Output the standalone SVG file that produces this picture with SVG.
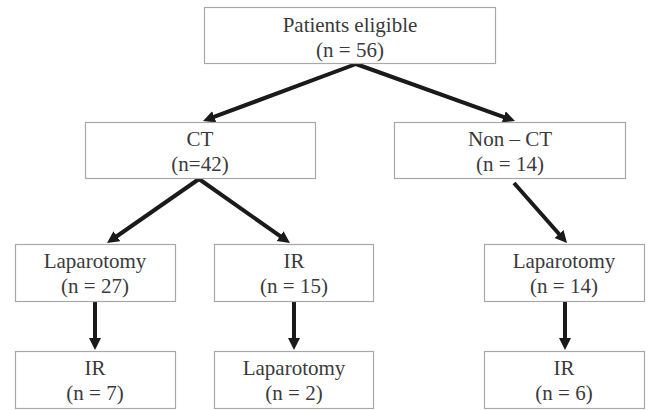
<svg xmlns="http://www.w3.org/2000/svg" width="648" height="410" viewBox="0 0 648 410">
<defs>
<style>
.box{fill:#fff;stroke:#a8a8a8;stroke-width:1.2}
.t{font-family:'Liberation Serif','Times New Roman',Times,'DejaVu Serif',serif;font-size:21px;fill:#3a3a3a;text-anchor:middle}
.c{stroke:#1a1a1a;stroke-width:4;fill:none;marker-end:url(#ah)}
</style>
<marker id="ah" markerUnits="userSpaceOnUse" markerWidth="13" markerHeight="13" refX="4" refY="6" orient="auto">
<path d="M0,0 L12,6 L0,12 z" fill="#1a1a1a"/>
</marker>
</defs>
<rect width="648" height="410" fill="#fff"/>
<g id="connectors">
<line class="c" x1="356" y1="64" x2="210.5" y2="118.2"/>
<line class="c" x1="356" y1="64" x2="507.5" y2="118.3"/>
<line class="c" x1="199" y1="179" x2="113.6" y2="238.5"/>
<line class="c" x1="199" y1="179" x2="283.4" y2="238.4"/>
<line class="c" x1="514" y1="183" x2="561.7" y2="237"/>
<line class="c" x1="95" y1="302" x2="95" y2="342"/>
<line class="c" x1="294" y1="302" x2="294" y2="342"/>
<line class="c" x1="565" y1="302" x2="565" y2="342"/>
</g>
<g id="n-eligible">
<rect class="box" x="204.5" y="7.5" width="291" height="56"/>
<text class="t" x="350" y="32" font-family="Liberation Serif, serif">Patients eligible</text>
<text class="t" x="350" y="57" font-family="Liberation Serif, serif">(n = 56)</text>
</g>
<g id="n-ct">
<rect class="box" x="85.5" y="122.5" width="230" height="56"/>
<text class="t" x="200" y="146">CT</text>
<text class="t" x="200" y="171">(n=42)</text>
</g>
<g id="n-nonct">
<rect class="box" x="394.5" y="122.5" width="231" height="56"/>
<text class="t" x="510" y="146">Non – CT</text>
<text class="t" x="510" y="171">(n = 14)</text>
</g>
<g id="n-lap1">
<rect class="box" x="15.5" y="244.5" width="160" height="57"/>
<text class="t" x="95" y="268">Laparotomy</text>
<text class="t" x="95" y="293">(n = 27)</text>
</g>
<g id="n-ir1">
<rect class="box" x="214.5" y="244.5" width="159" height="57"/>
<text class="t" x="294" y="268">IR</text>
<text class="t" x="294" y="293">(n = 15)</text>
</g>
<g id="n-lap2">
<rect class="box" x="484.5" y="244.5" width="160" height="57"/>
<text class="t" x="564" y="268">Laparotomy</text>
<text class="t" x="564" y="293">(n = 14)</text>
</g>
<g id="n-ir2">
<rect class="box" x="15.5" y="351.5" width="160" height="57"/>
<text class="t" x="95" y="375">IR</text>
<text class="t" x="95" y="400">(n = 7)</text>
</g>
<g id="n-lap3">
<rect class="box" x="214.5" y="351.5" width="159" height="57"/>
<text class="t" x="294" y="375">Laparotomy</text>
<text class="t" x="294" y="400">(n = 2)</text>
</g>
<g id="n-ir3">
<rect class="box" x="484.5" y="351.5" width="160" height="57"/>
<text class="t" x="564" y="375">IR</text>
<text class="t" x="564" y="400">(n = 6)</text>
</g>
</svg>
